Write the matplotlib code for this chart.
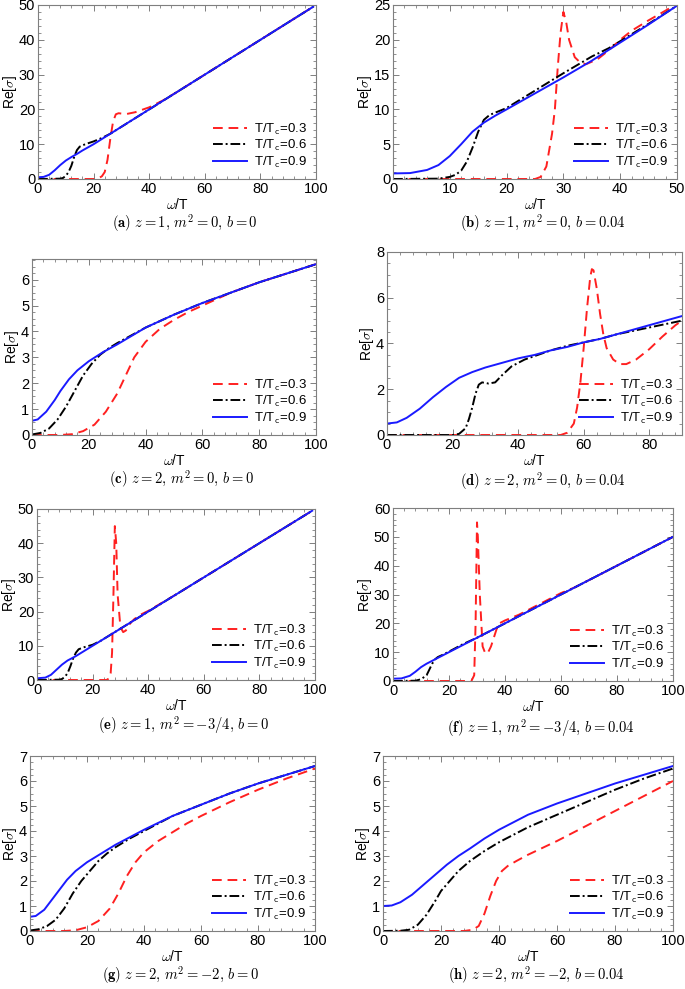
import numpy as np
import matplotlib.pyplot as plt
from matplotlib.ticker import MultipleLocator, AutoMinorLocator

plt.rcParams['font.family'] = ['Liberation Sans', 'DejaVu Sans']
plt.rcParams['mathtext.fontset'] = 'cm'

# ---- data: omega/T and Re[sigma] ----
# (a) z=1, m^2=0, b=0
a_red_w = [0, 20, 22, 23, 24, 25, 26, 27, 28, 29, 30, 32, 35, 40, 45, 50, 55, 60, 99]
a_red_s = [0, 0, 0.3, 0.8, 2, 5.5, 11.5, 16.5, 18.6, 18.9, 18.8, 18.7, 19.2, 20.6, 22.6, 25, 27.5, 30, 49.5]
a_blk_w = [0, 8, 9, 10, 11, 12, 13, 14, 15, 17, 20, 23, 26, 30, 99]
a_blk_s = [0, 0.1, 0.3, 0.9, 2, 3.8, 6.3, 8.3, 9.3, 10, 10.8, 11.8, 13, 15, 49.5]
a_blu_w = [0, 2, 4, 6, 8, 10, 12, 14, 16, 20, 25, 30, 40, 60, 80, 99]
a_blu_s = [0.5, 0.6, 1.2, 2.5, 4, 5.3, 6.3, 7.2, 8.2, 10, 12.5, 15, 20, 30, 40, 49.5]

# (b) z=1, m^2=0, b=0.04
b_red_w = [0, 25, 26, 27, 28, 28.5, 29, 29.5, 30, 30.5, 31, 32, 33, 34, 36, 38, 40, 42, 45, 48, 50]
b_red_s = [0, 0, 0.3, 1.8, 6.5, 10, 16, 21, 24, 22.5, 20, 17.5, 16.7, 16.5, 17.2, 18.5, 20, 21.3, 22.8, 24.2, 25.2]
b_blk_w = [0, 8, 10, 11, 12, 13, 14, 15, 16, 17, 20, 25, 30, 35, 38, 40, 45, 50]
b_blk_s = [0, 0.05, 0.3, 0.6, 1.2, 2.5, 4.5, 6.8, 8.5, 9.2, 10.2, 12.7, 15.2, 17.6, 18.8, 19.8, 22.3, 24.9]
b_blu_w = [0, 3, 6, 8, 10, 12, 14, 16, 18, 20, 25, 30, 35, 40, 45, 50]
b_blu_s = [0.8, 0.85, 1.3, 2, 3.3, 5, 6.8, 8.1, 9.1, 10, 12.3, 14.6, 17, 19.6, 22.2, 24.9]

# (c) z=2, m^2=0, b=0
c_red_w = [0, 10, 14, 18, 22, 26, 30, 33, 36, 40, 45, 50, 55, 60, 65, 70, 80, 90, 100]
c_red_s = [0, 0, 0.03, 0.15, 0.4, 0.9, 1.6, 2.3, 3.0, 3.6, 4.1, 4.45, 4.75, 5.0, 5.25, 5.5, 5.9, 6.25, 6.6]
c_blk_w = [0, 3, 6, 9, 12, 15, 18, 21, 24, 27, 30, 35, 40, 50, 60, 70, 80, 90, 100]
c_blk_s = [0.02, 0.08, 0.25, 0.6, 1.1, 1.7, 2.3, 2.75, 3.1, 3.35, 3.55, 3.85, 4.15, 4.65, 5.1, 5.5, 5.9, 6.25, 6.6]
c_blu_w = [0, 2, 5, 8, 10, 13, 16, 20, 25, 30, 40, 50, 60, 70, 80, 90, 100]
c_blu_s = [0.55, 0.6, 0.9, 1.35, 1.7, 2.15, 2.5, 2.85, 3.2, 3.5, 4.15, 4.65, 5.1, 5.5, 5.9, 6.25, 6.6]

# (d) z=2, m^2=0, b=0.04
d_red_w = [0, 53, 55, 57, 58, 59, 60, 61, 62, 62.5, 63, 64, 65, 66, 67, 69, 71, 73, 76, 80, 84, 88, 90]
d_red_s = [0, 0, 0.1, 0.5, 1.2, 2.3, 3.8, 5.5, 6.9, 7.25, 7.2, 6.4, 5.3, 4.4, 3.8, 3.3, 3.1, 3.1, 3.3, 3.75, 4.3, 4.8, 5.0]
d_blk_w = [0, 20, 22, 24, 25, 26, 27, 28, 29, 31, 33, 35, 38, 42, 46, 50, 55, 60, 65, 70, 75, 80, 85, 90]
d_blk_s = [0, 0, 0.05, 0.3, 0.7, 1.2, 1.8, 2.2, 2.3, 2.25, 2.3, 2.6, 3.0, 3.3, 3.5, 3.7, 3.9, 4.05, 4.2, 4.4, 4.55, 4.7, 4.85, 5.0]
d_blu_w = [0, 3, 6, 10, 14, 18, 22, 26, 30, 35, 40, 45, 50, 55, 60, 65, 70, 75, 80, 85, 90]
d_blu_s = [0.5, 0.55, 0.75, 1.15, 1.65, 2.1, 2.5, 2.75, 2.95, 3.15, 3.35, 3.5, 3.7, 3.85, 4.05, 4.2, 4.4, 4.6, 4.8, 5.0, 5.2]

# (e) z=1, m^2=-3/4, b=0
e_red_w = [0, 25, 26, 26.5, 27, 27.5, 28, 28.5, 29, 30, 31, 32, 33, 34, 35, 37, 40, 45, 50, 55, 60, 99]
e_red_s = [0, 0, 0.5, 2, 8, 25, 45, 40, 25, 15.5, 14, 14.5, 16, 17, 17.8, 19, 20.2, 22.6, 25, 27.5, 30, 49.5]
e_blk_w = [0, 8, 9, 10, 11, 12, 13, 14, 15, 17, 20, 23, 30, 99]
e_blk_s = [0, 0.1, 0.3, 0.9, 2, 4, 6.3, 8, 9, 9.6, 10.3, 11.5, 15, 49.5]
e_blu_w = [0, 3, 5, 7, 9, 11, 14, 17, 20, 30, 40, 60, 80, 99]
e_blu_s = [0.5, 0.7, 1.5, 3, 4.5, 5.7, 7, 8.5, 10, 15, 20, 30, 40, 49.5]

# (f) z=1, m^2=-3/4, b=0.04
f_red_w = [0, 28, 29, 29.5, 30, 30.3, 31, 32, 33, 34, 35, 36, 37, 38, 40, 45, 50, 60, 65, 100]
f_red_s = [0, 0, 2, 20, 55, 50, 30, 12, 9.5, 10, 12, 15, 18, 20, 21, 23, 25.5, 30.5, 32.5, 50]
f_blk_w = [0, 8, 10, 12, 13, 14, 15, 16, 18, 20, 25, 30, 100]
f_blk_s = [0, 0.1, 0.6, 2, 4, 6, 7.5, 8.3, 9.2, 10.2, 12.8, 15, 50]
f_blu_w = [0, 3, 6, 8, 10, 12, 14, 16, 20, 30, 40, 60, 80, 100]
f_blu_s = [0.8, 0.9, 1.8, 3.2, 4.8, 6, 7, 8, 10, 15, 20, 30, 40, 50]

# (g) z=2, m^2=-2, b=0
g_red_w = [0, 12, 16, 20, 24, 28, 31, 34, 37, 40, 45, 50, 55, 60, 70, 80, 90, 100]
g_red_s = [0, 0, 0.03, 0.15, 0.4, 0.9, 1.5, 2.2, 2.75, 3.15, 3.6, 3.95, 4.3, 4.6, 5.15, 5.65, 6.1, 6.5]
g_blk_w = [0, 3, 6, 9, 12, 15, 18, 21, 24, 27, 30, 35, 40, 45, 50, 60, 70, 80, 90, 100]
g_blk_s = [0.02, 0.07, 0.2, 0.45, 0.9, 1.5, 2.0, 2.4, 2.8, 3.1, 3.35, 3.7, 4.0, 4.3, 4.6, 5.05, 5.5, 5.9, 6.25, 6.6]
g_blu_w = [0, 2, 5, 8, 10, 13, 16, 20, 25, 30, 40, 50, 60, 70, 80, 90, 100]
g_blu_s = [0.57, 0.6, 0.85, 1.3, 1.6, 2.05, 2.4, 2.75, 3.1, 3.45, 4.05, 4.6, 5.05, 5.5, 5.9, 6.25, 6.6]

# (h) z=2, m^2=-2, b=0.04
h_red_w = [0, 28, 31, 33, 35, 37, 39, 41, 43, 46, 50, 60, 70, 80, 90, 100]
h_red_s = [0, 0, 0.05, 0.2, 0.7, 1.4, 2.0, 2.4, 2.6, 2.8, 3.05, 3.6, 4.2, 4.8, 5.4, 6.0]
h_blk_w = [0, 6, 9, 12, 15, 18, 20, 23, 26, 30, 35, 40, 45, 50, 60, 70, 80, 90, 100]
h_blk_s = [0, 0.01, 0.05, 0.25, 0.65, 1.2, 1.6, 2.0, 2.4, 2.8, 3.2, 3.55, 3.85, 4.15, 4.65, 5.15, 5.65, 6.1, 6.5]
h_blu_w = [0, 3, 6, 10, 14, 18, 22, 26, 30, 35, 40, 45, 50, 60, 70, 80, 90, 100]
h_blu_s = [1.0, 1.02, 1.15, 1.45, 1.85, 2.25, 2.65, 3.0, 3.3, 3.7, 4.05, 4.35, 4.65, 5.1, 5.5, 5.9, 6.25, 6.6]

temps = ['0.3', '0.6', '0.9']
captions = [r'$\mathbf{(a)}\ z=1,\, m^2=0,\, b=0$',
            r'$\mathbf{(b)}\ z=1,\, m^2=0,\, b=0.04$',
            r'$\mathbf{(c)}\ z=2,\, m^2=0,\, b=0$',
            r'$\mathbf{(d)}\ z=2,\, m^2=0,\, b=0.04$',
            r'$\mathbf{(e)}\ z=1,\, m^2=-3/4,\, b=0$',
            r'$\mathbf{(f)}\ z=1,\, m^2=-3/4,\, b=0.04$',
            r'$\mathbf{(g)}\ z=2,\, m^2=-2,\, b=0$',
            r'$\mathbf{(h)}\ z=2,\, m^2=-2,\, b=0.04$']

panels = [
    (a_red_w, a_red_s, a_blk_w, a_blk_s, a_blu_w, a_blu_s),
    (b_red_w, b_red_s, b_blk_w, b_blk_s, b_blu_w, b_blu_s),
    (c_red_w, c_red_s, c_blk_w, c_blk_s, c_blu_w, c_blu_s),
    (d_red_w, d_red_s, d_blk_w, d_blk_s, d_blu_w, d_blu_s),
    (e_red_w, e_red_s, e_blk_w, e_blk_s, e_blu_w, e_blu_s),
    (f_red_w, f_red_s, f_blk_w, f_blk_s, f_blu_w, f_blu_s),
    (g_red_w, g_red_s, g_blk_w, g_blk_s, g_blu_w, g_blu_s),
    (h_red_w, h_red_s, h_blk_w, h_blk_s, h_blu_w, h_blu_s),
]

# axis limits and tick steps: (xmax, xstep, ymax, ystep)
limits = [(100, 20, 50, 10), (50, 10, 25, 5), (100, 20, 6.8, 1), (90, 20, 8, 2),
          (100, 20, 50, 10), (100, 20, 60, 10), (100, 20, 7, 1), (100, 20, 7, 1)]

# axes boxes in pixels: left, top, right, bottom
boxes = [(38, 5, 316, 179), (393, 5, 677, 179),
         (32, 259, 316, 435), (387, 252, 682, 435),
         (37, 509, 315, 680), (393, 508, 673, 681),
         (30, 756, 315, 931), (383, 756, 673, 931)]
cap_y = [223, 223, 479, 481, 725, 728, 975, 975]

W, H = 685, 989
fig = plt.figure(figsize=(W / 100, H / 100), dpi=100)

frame = '#7f7f7f'
for i in range(8):
    l, t, r, b = boxes[i]
    ax = fig.add_axes([l / W, 1 - b / H, (r - l) / W, (b - t) / H])
    rw, rs, kw, ks, bw, bs = panels[i]
    ax.plot(rw, rs, color='#ff2020', ls=(0, (5, 3)), lw=1.4, label=r'T/T$_{\mathsf{c}}$=' + temps[0])
    ax.plot(kw, ks, color='black', ls=(0, (5, 1.5, 1, 1.5)), lw=1.4, label=r'T/T$_{\mathsf{c}}$=' + temps[1])
    ax.plot(bw, bs, color='#1a1aff', ls='-', lw=1.4, label=r'T/T$_{\mathsf{c}}$=' + temps[2])
    xmax, xs, ymax, ys = limits[i]
    ax.set_xlim(0, xmax)
    ax.set_ylim(0, ymax)
    ax.xaxis.set_major_locator(MultipleLocator(xs))
    ax.yaxis.set_major_locator(MultipleLocator(ys))
    ax.xaxis.set_minor_locator(AutoMinorLocator(5))
    ax.yaxis.set_minor_locator(AutoMinorLocator(5 if ys in (10, 5) else 4))
    ax.tick_params(which='both', direction='in', top=True, right=True, color=frame,
                   labelsize=10.5, pad=2)
    ax.tick_params(which='major', length=4, width=0.7)
    ax.tick_params(which='minor', length=2, width=0.6)
    for sp in ax.spines.values():
        sp.set_color(frame)
        sp.set_linewidth(0.8)
    ax.set_xlabel(r'$\omega$/T', fontsize=10, labelpad=1)
    ax.set_ylabel(r'Re[$\sigma$]', fontsize=10, labelpad=0)
    ax.legend(loc='lower right', frameon=False, fontsize=9.5, handlelength=2.6,
              labelspacing=0.1, borderaxespad=0.3, handletextpad=0.5)
    fig.text(((l + r) / 2 + 8) / W, 1 - cap_y[i] / H, captions[i], ha='center', va='center',
             fontsize=10.5)

fig.savefig('out.png', dpi=100)
